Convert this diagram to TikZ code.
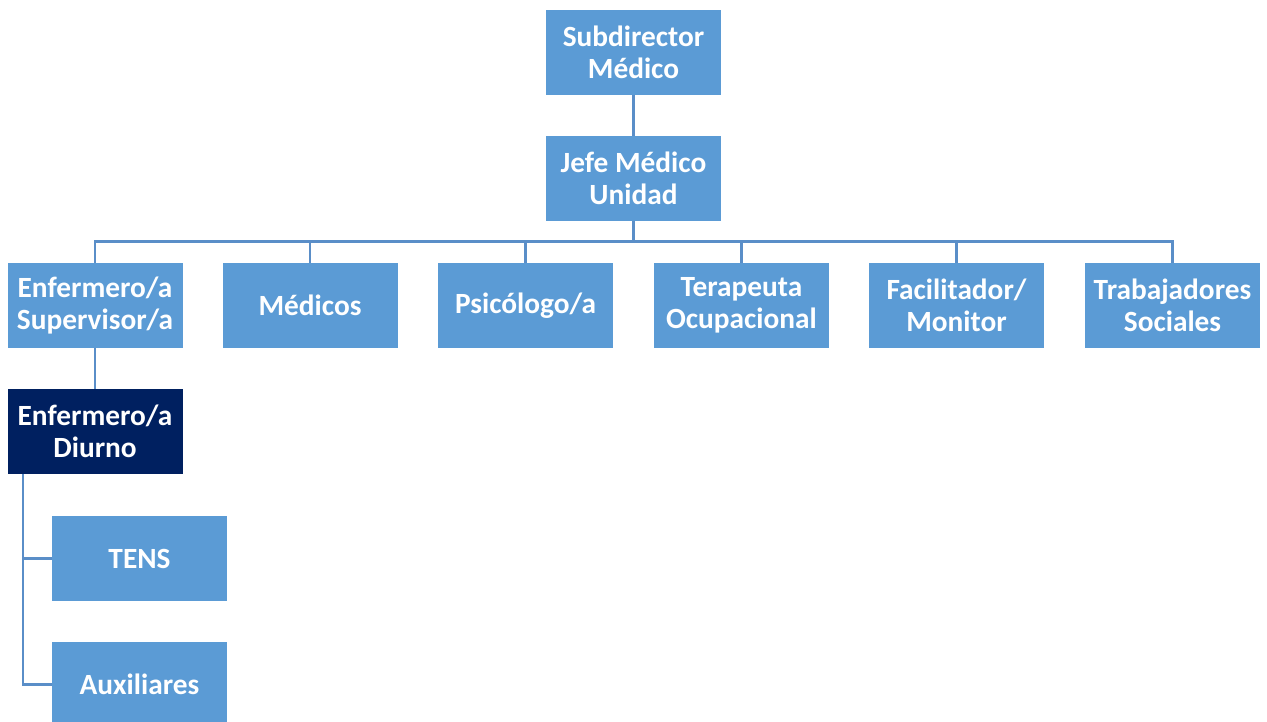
\documentclass[tikz,border=0pt]{standalone}
\usepackage{fontspec}
\setmainfont{Carlito}
\usetikzlibrary{calc}
\definecolor{boxblue}{HTML}{5B9BD5}
\definecolor{navy}{HTML}{002060}
\definecolor{linkblue}{HTML}{5A8EC8}
\begin{document}
\begin{tikzpicture}[x=0.75pt,y=-0.75pt,
  orgbox/.style={fill=boxblue,draw=none,minimum width=131.25pt,minimum height=63.75pt,
    inner sep=0pt,align=center,text=white,font=\fontsize{22}{24}\selectfont\bfseries},
  darkbox/.style={orgbox,fill=navy},
  link/.style={draw=linkblue,line width=2.2pt}]
\useasboundingbox (0,0) rectangle (1267,721);
\begin{scope}
\clip (0,0) rectangle (1267,721);
\node[orgbox] (sub) at (633.5,52) {Subdirector\\Médico};
\node[orgbox] (jefe) at (633.5,178.5) {Jefe Médico\\Unidad};
\node[orgbox] (enf) at (95,305.5) {Enfermero/a\\Supervisor/a};
\node[orgbox] (med) at (310,305.5) {Médicos};
\node[orgbox] (psi) at (525.5,305.5) {Psicólogo/a};
\node[orgbox] (ter) at (741.5,305.5) {Terapeuta\\Ocupacional};
\node[orgbox] (fac) at (956.5,305.5) {Facilitador/\\Monitor};
\node[orgbox] (tra) at (1172.5,305.5) {Trabajadores\\Sociales};
\node[darkbox] (diu) at (95,431.5) {Enfermero/a\\Diurno};
\node[orgbox] (tens) at (139.5,558.5) {TENS};
\node[orgbox] (aux) at (139.5,684.5) {Auxiliares};
\coordinate (bus) at (633.5,242);
\draw[link] (sub.south) -- (jefe.north);
\draw[link] (jefe.south) -- (bus);
\foreach \n in {enf,med,psi,ter,fac,tra}
  \draw[link] (\n.north) -- ++(0,-21) -| (bus);
\draw[link] ($(enf.north)+(0,-21)$) -- ($(tra.north)+(0,-21)$);
\draw[link] (enf.south) -- (diu.north);
\draw[link] ([xshift=-54pt]diu.south) |- (tens.west);
\draw[link] ([xshift=-54pt]diu.south) |- (aux.west);
\end{scope}
\end{tikzpicture}
\end{document}
